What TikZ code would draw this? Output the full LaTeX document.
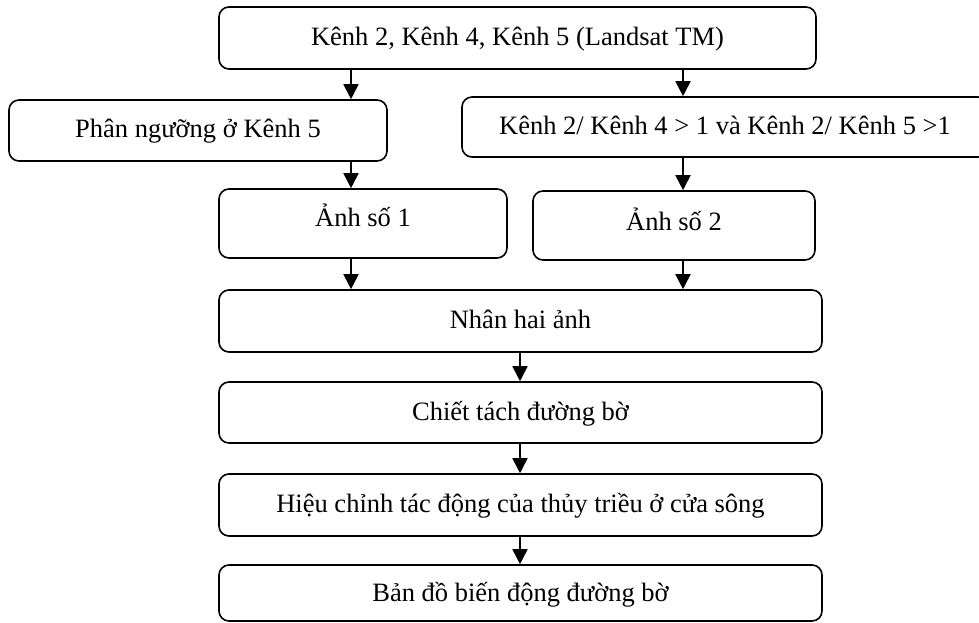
\documentclass[tikz,border=0pt]{standalone}
\usepackage{fontspec}
\setmainfont{Liberation Serif}
\usetikzlibrary{arrows.meta}
\tikzset{
  box/.style={draw, line width=1.6pt, rounded corners=10pt, inner sep=0pt,
              font=\fontsize{26.5}{31}\selectfont, anchor=center,
              text height=20pt, text depth=5pt},
  flow/.style={line width=1.8pt, -{Triangle[length=15pt,width=15pt]}}
}
\begin{document}
\begin{tikzpicture}[x=1pt,y=-1pt]
\useasboundingbox (0,0) rectangle (979,623);
\clip (0,0) rectangle (979,623);
\node[box, minimum width=597, minimum height=62] (top) at (517.5,38) {Kênh 2, Kênh 4, Kênh 5 (Landsat TM)};
\node[box, minimum width=378, minimum height=61] (pn) at (198,130.5) {Phân ngưỡng ở Kênh 5};
\node[box, minimum width=526, minimum height=60] (kr) at (725,127) {Kênh 2/ Kênh 4 > 1 và Kênh 2/ Kênh 5 >1};
\node[box, minimum width=288, minimum height=69, text depth=15pt] (a1) at (363,223.5) {Ảnh số 1};
\node[box, minimum width=282, minimum height=69, text depth=11pt] (a2) at (674,225.5) {Ảnh số 2};
\node[box, minimum width=603, minimum height=62] (nh) at (520.5,321) {Nhân hai ảnh};
\node[box, minimum width=603, minimum height=61] (ct) at (520.5,412.5) {Chiết tách đường bờ};
\node[box, minimum width=603, minimum height=62] (hc) at (520.5,505) {Hiệu chỉnh tác động của thủy triều ở cửa sông};
\node[box, minimum width=603, minimum height=56, text depth=3pt] (bd) at (520.5,593) {Bản đồ biến động đường bờ};
\coordinate (xl) at (351,0);
\coordinate (xr) at (683,0);
\coordinate (xm) at (520,0);
\draw[flow] (top.south -| xl) -- (pn.north -| xl);
\draw[flow] (top.south -| xr) -- (kr.north -| xr);
\draw[flow] (pn.south -| xl) -- (a1.north -| xl);
\draw[flow] (kr.south -| xr) -- (a2.north -| xr);
\draw[flow] (a1.south -| xl) -- (nh.north -| xl);
\draw[flow] (a2.south -| xr) -- (nh.north -| xr);
\draw[flow] (nh.south -| xm) -- (ct.north -| xm);
\draw[flow] (ct.south -| xm) -- (hc.north -| xm);
\draw[flow] (hc.south -| xm) -- (bd.north -| xm);
\end{tikzpicture}
\end{document}
